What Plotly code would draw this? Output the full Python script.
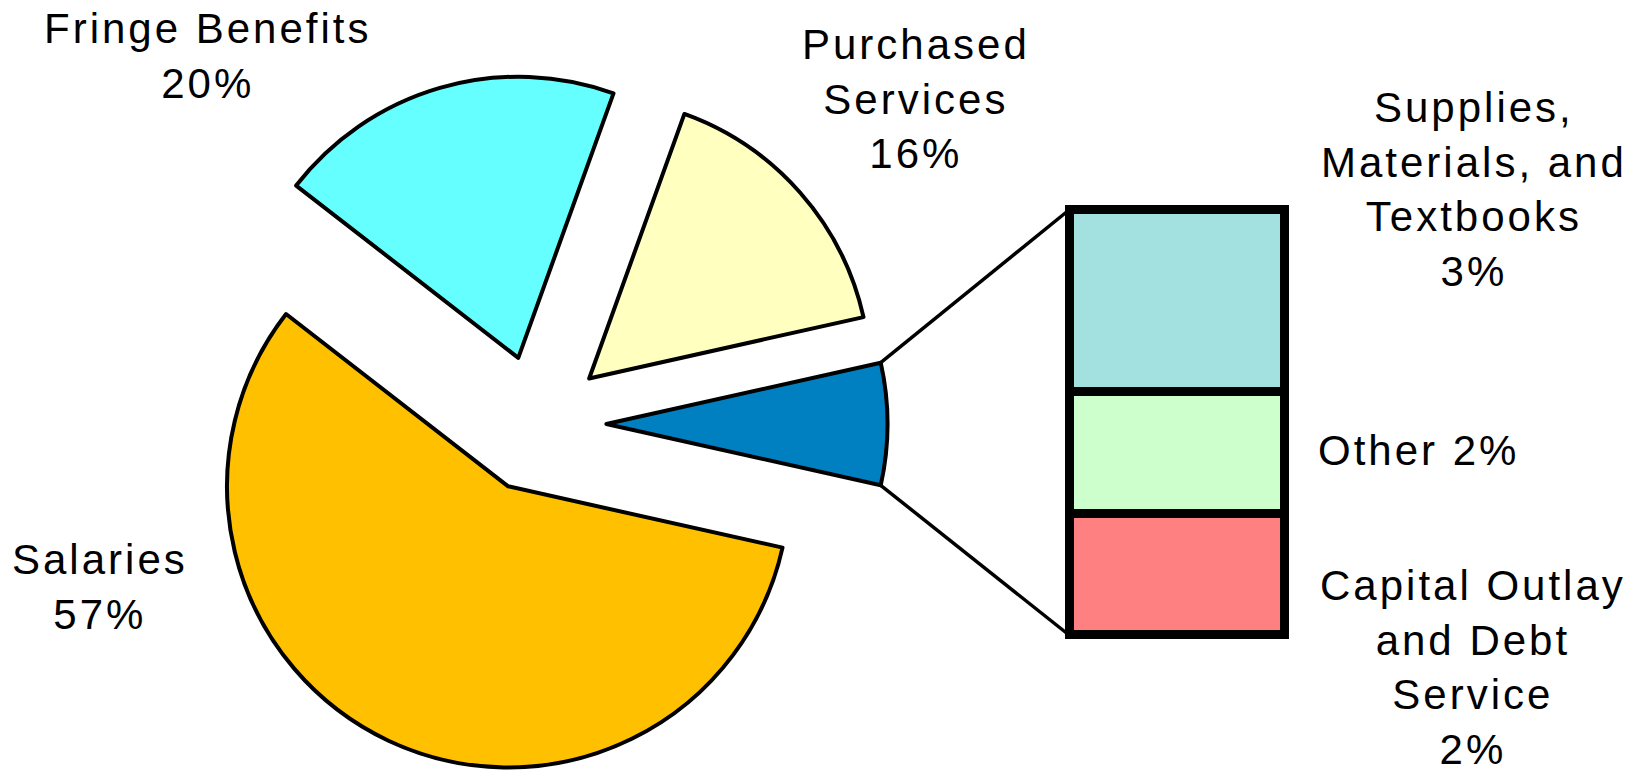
import math
import plotly.graph_objects as go

# ---------------- data ----------------
main_labels = ["Purchased Services", "Fringe Benefits", "Salaries"]
main_values = [16, 20, 57]
main_label_fmt = ["Purchased<br>Services<br>{p}%", "Fringe Benefits<br>{p}%", "Salaries<br>{p}%"]

detail_labels = ["Supplies, Materials, and Textbooks", "Other", "Capital Outlay and Debt Service"]
detail_values = [3, 2, 2]
detail_label_fmt = ["Supplies,<br>Materials, and<br>Textbooks<br>{p}%", "Other {p}%",
                    "Capital Outlay<br>and Debt<br>Service<br>{p}%"]
combined_label = "Other Expenses"

# ---------------- style ----------------
W, H = 1643, 774
main_colors = ["#FFFFC0", "#66FFFF", "#FFC000"]
combined_color = "#0080C0"
detail_colors = ["#A3E0E0", "#CCFFCC", "#FF8080"]
FONT = "Liberation Sans, Arial, sans-serif"
FS = 42
LSP = 3

PIE_CX, PIE_CY, PIE_BOX, PULL = 537.5, 424.0, 700.0, 0.245
BAR_X0, BAR_X1, BAR_YB, BAR_YT = 1069.0, 1284.0, 635.0, 210.0
XPAD, YPAD = 0.1, 0.3

main_pos = [(916, 99.5), (207, 55.5), (100, 586.5)]
detail_pos = [(1474, 189), (1418, 451), (1473, 667)]

# ---------------- derived ----------------
combined_value = sum(detail_values)
pie_labels = [combined_label] + main_labels
pie_values = [combined_value] + main_values
pie_colors = [combined_color] + main_colors
total = sum(pie_values)

half_angle = math.pi * combined_value / total
rotation = 90 - math.degrees(half_angle)


def px2paper(x, y):
    return x / W, 1 - y / H


fig = go.Figure()
fig.add_trace(go.Pie(
    labels=pie_labels, values=pie_values, sort=False,
    direction="counterclockwise", rotation=rotation, pull=PULL,
    marker=dict(colors=pie_colors, line=dict(color="black", width=4)),
    textinfo="none", hoverinfo="label+percent", showlegend=False,
    domain=dict(x=[(PIE_CX - PIE_BOX / 2) / W, (PIE_CX + PIE_BOX / 2) / W],
                y=[max(0, 1 - (PIE_CY + PIE_BOX / 2) / H), 1 - (PIE_CY - PIE_BOX / 2) / H]),
))

# stacked bar (bottom to top)
for lab, val, col in reversed(list(zip(detail_labels, detail_values, detail_colors))):
    fig.add_trace(go.Bar(
        x=[0], y=[val], width=1, name=lab, showlegend=False,
        marker=dict(color=col, line=dict(color="black", width=9)),
        hoverinfo="name+y",
    ))

ppx = (BAR_X1 - BAR_X0) / 1.0
ppy = (BAR_YB - BAR_YT) / combined_value
xdom = [(BAR_X0 - XPAD * ppx) / W, (BAR_X1 + XPAD * ppx) / W]
ydom = [1 - (BAR_YB + YPAD * ppy) / H, 1 - (BAR_YT - YPAD * ppy) / H]


def bar_px(xv, yv):
    return BAR_X0 + (xv + 0.5) * ppx, BAR_YB - yv * ppy


# connectors
r = PIE_BOX / 2 / (1 + PULL)
d = PULL * r
shapes = []
for sgn, yv in ((1, combined_value), (-1, 0)):
    sx = PIE_CX + d + r * math.cos(half_angle)
    sy = PIE_CY - sgn * r * math.sin(half_angle)
    ex, ey = bar_px(-0.5, yv)
    x0, y0 = px2paper(sx, sy)
    x1, y1 = px2paper(ex, ey)
    shapes.append(dict(type="line", xref="paper", yref="paper", x0=x0, y0=y0, x1=x1, y1=y1,
                       line=dict(color="black", width=3.5)))


def spaced(txt):
    return "<br>".join(f"<span style='letter-spacing:{LSP}px'>{ln}</span>" for ln in txt.split("<br>"))


annotations = []
for fmt, val, (x, y) in zip(main_label_fmt, main_values, main_pos):
    px_, py_ = px2paper(x, y)
    annotations.append(dict(text=spaced(fmt.format(p=round(val / total * 100))), x=px_, y=py_,
                            xref="paper", yref="paper", showarrow=False, align="center",
                            xanchor="center", yanchor="middle"))
for fmt, val, (x, y) in zip(detail_label_fmt, detail_values, detail_pos):
    px_, py_ = px2paper(x, y)
    annotations.append(dict(text=spaced(fmt.format(p=round(val / total * 100))), x=px_, y=py_,
                            xref="paper", yref="paper", showarrow=False, align="center",
                            xanchor="center", yanchor="middle"))

fig.update_layout(
    width=W, height=H, margin=dict(l=0, r=0, t=0, b=0),
    paper_bgcolor="white", plot_bgcolor="rgba(0,0,0,0)",
    font=dict(family=FONT, size=FS, color="black"),
    barmode="stack", bargap=0,
    xaxis=dict(domain=xdom, range=[-0.5 - XPAD, 0.5 + XPAD], visible=False, fixedrange=True),
    yaxis=dict(domain=ydom, range=[-YPAD, combined_value + YPAD], visible=False, fixedrange=True),
    shapes=shapes, annotations=annotations, showlegend=False,
)

fig.write_html("out.html", config={"displayModeBar": False},
               post_script="document.body.style.margin='0';document.body.style.overflow='hidden';")
